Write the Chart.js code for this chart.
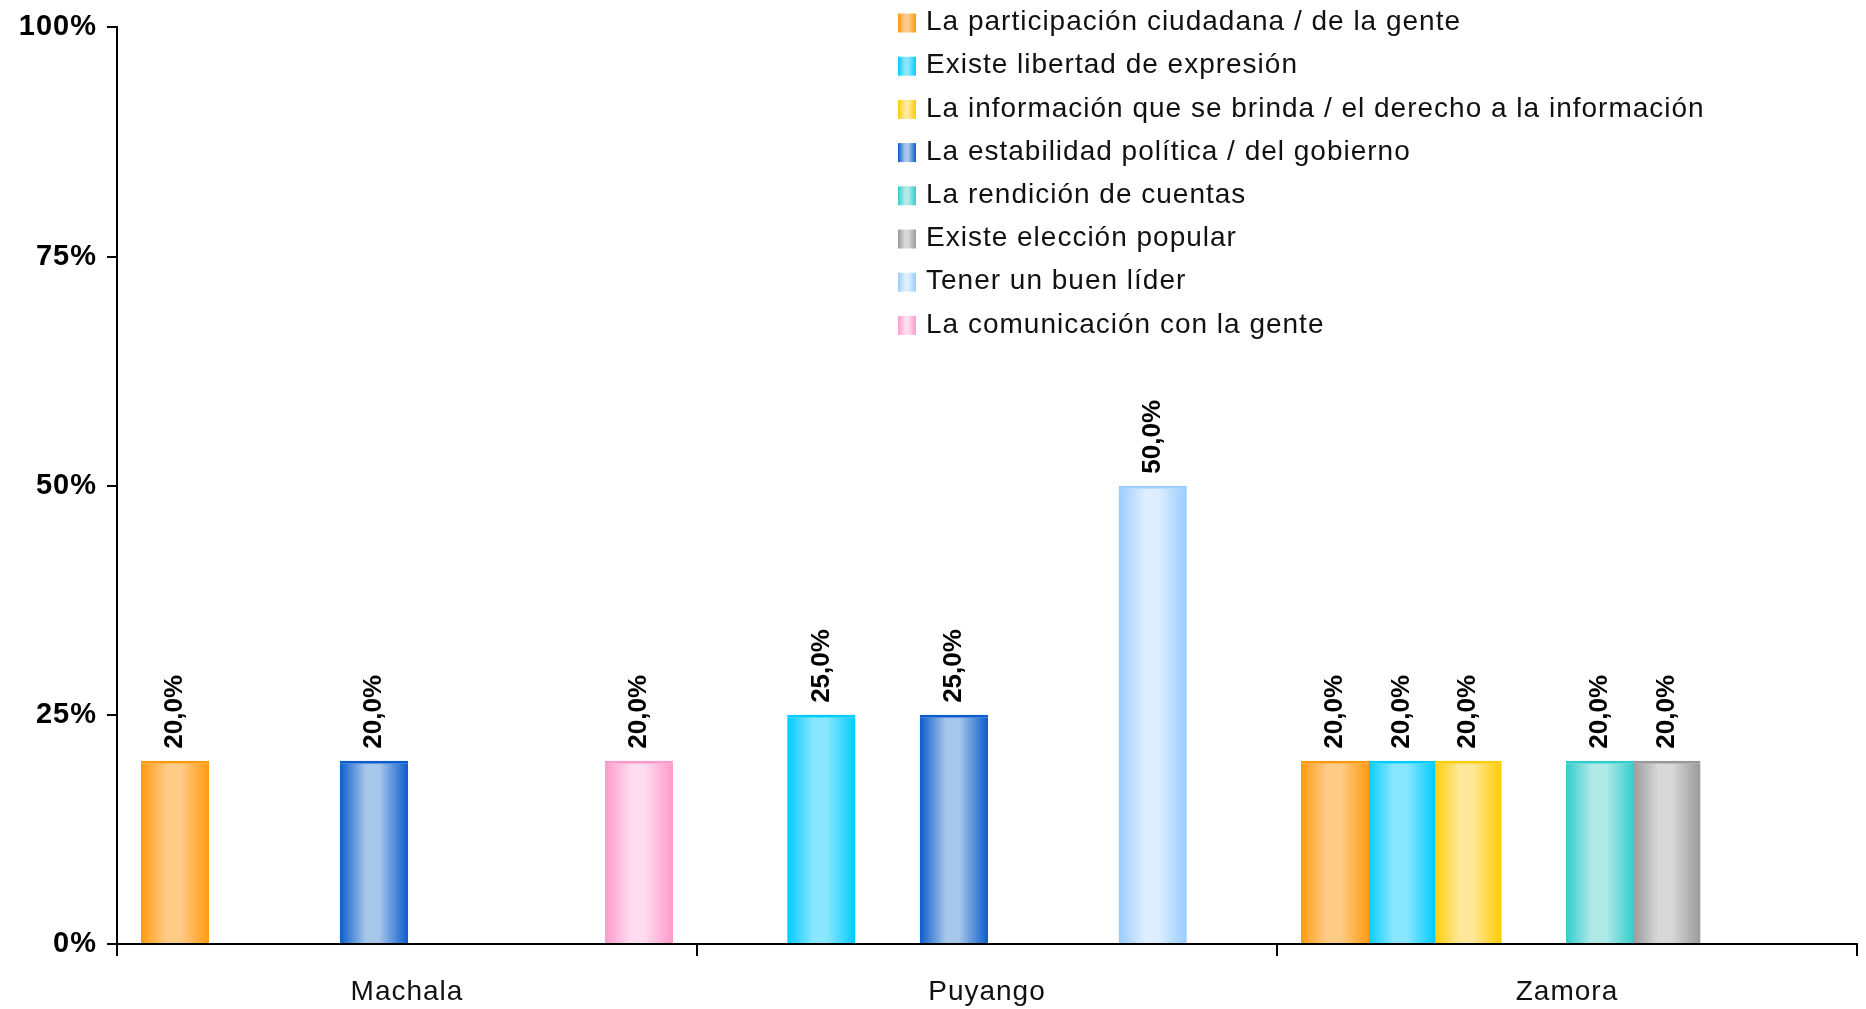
<!DOCTYPE html>
<html>
<head>
<meta charset="utf-8">
<script src="https://cdn.jsdelivr.net/npm/chart.js@4.4.1/dist/chart.umd.min.js"></script>
<style>
  html, body { margin: 0; padding: 0; background: #fff; }
  #caja { width: 1866px; height: 1009px; }
</style>
</head>
<body>
<div id="caja"><canvas id="grafico"></canvas></div>
<script>
const ciudades = ['Machala', 'Puyango', 'Zamora'];
const nombres = [
  'La participación ciudadana / de la gente',
  'Existe libertad de expresión',
  'La información que se brinda / el derecho a la información',
  'La estabilidad política / del gobierno',
  'La rendición de cuentas',
  'Existe elección popular',
  'Tener un buen líder',
  'La comunicación con la gente'
];
const participacion = [20, null, 20];
const libertad = [null, 25, 20];
const informacion = [null, null, 20];
const estabilidad = [20, 25, null];
const rendicion = [null, null, 20];
const eleccion = [null, null, 20];
const lider = [null, 50, null];
const comunicacion = [20, null, null];
const ticksY = [0, 25, 50, 75, 100];

const valores = [participacion, libertad, informacion, estabilidad, rendicion, eleccion, lider, comunicacion];

// [borde, centro]
const colores = [
  ['#ff9a10', '#ffcc88'],
  ['#00ccff', '#88e6ff'],
  ['#ffcc00', '#ffe899'],
  ['#0a5ccc', '#a6c6ea'],
  ['#33cccc', '#b0eae8'],
  ['#999999', '#d8d8d8'],
  ['#99ccff', '#ddeeff'],
  ['#ff99cc', '#ffdcee']
];

const FUENTE = '"Liberation Sans", Arial, sans-serif';

const hacerGradiente = (ctx, x0, x1, c) => {
  const g = ctx.createLinearGradient(x0, 0, x1, 0);
  g.addColorStop(0, c[0]);
  g.addColorStop(0.38, c[1]);
  g.addColorStop(0.58, c[1]);
  g.addColorStop(1, c[0]);
  return g;
}

const relleno = (c) => (context) => {
  const bar = context.element;
  if (!bar || bar.x === undefined || !bar.width) return c[0];
  return hacerGradiente(context.chart.ctx, bar.x - bar.width / 2, bar.x + bar.width / 2, c);
}

// el texto del original es algo mas ancho
const espaciado = {
  id: 'espaciado',
  beforeDraw(chart) { chart.ctx.letterSpacing = '1px'; },
  afterDraw(chart) { chart.ctx.letterSpacing = '0px'; }
}

const etiquetas = {
  id: 'etiquetas',
  afterDatasetsDraw(chart) {
    const {ctx} = chart;
    ctx.save();
    ctx.letterSpacing = '0px';
    ctx.font = 'bold 26px ' + FUENTE;
    ctx.fillStyle = '#000';
    ctx.textAlign = 'left';
    ctx.textBaseline = 'middle';
    chart.data.datasets.forEach((ds, i) => {
      chart.getDatasetMeta(i).data.forEach((bar, j) => {
        const v = ds.data[j];
        if (v === null) return;
        ctx.save();
        ctx.translate(bar.x, bar.y - 12);
        ctx.rotate(-Math.PI / 2);
        ctx.fillText(v.toFixed(1).replace('.', ',') + '%', 0, 0);
        ctx.restore();
      });
    });
    ctx.restore();
  }
}

const leyenda = {
  id: 'leyenda',
  afterDraw(chart) {
    const {ctx} = chart;
    ctx.save();
    ctx.letterSpacing = '1px';
    ctx.font = '28px ' + FUENTE;
    ctx.textAlign = 'left';
    ctx.textBaseline = 'middle';
    chart.data.datasets.forEach((ds, i) => {
      const y = 22.5 + i * 43.2;
      ctx.fillStyle = hacerGradiente(ctx, 898, 916, colores[i]);
      ctx.fillRect(898, y - 9, 18, 19);
      ctx.fillStyle = '#111';
      ctx.fillText(ds.label, 926, y);
    });
    ctx.restore();
  }
}

const datasets = nombres.map((n, i) => ({
  label: n,
  data: valores[i],
  backgroundColor: relleno(colores[i]),
  borderColor: colores[i][0],
  borderWidth: {top: 3, left: 0, right: 0, bottom: 0},
  borderSkipped: 'bottom',
  categoryPercentage: 0.914,
  barPercentage: 1.03
}));

const grafico = new Chart(document.getElementById('grafico'), {
  type: 'bar',
  data: { labels: ciudades, datasets },
  options: {
    responsive: true,
    maintainAspectRatio: false,
    animation: false,
    layout: { padding: { left: 0, top: 25, right: 9, bottom: 0 } },
    plugins: {
      legend: { display: false },
      tooltip: { enabled: false }
    },
    scales: {
      x: {
        grid: { drawOnChartArea: false, color: '#000', lineWidth: 2, tickLength: 12, tickColor: '#000', tickWidth: 2 },
        border: { display: true, color: '#000', width: 2 },
        ticks: { color: '#111', font: { size: 28, family: FUENTE }, padding: 19 },
        afterFit: (s) => { s.height = 65; }
      },
      y: {
        min: 0,
        max: 100,
        afterBuildTicks: (s) => { s.ticks = ticksY.map(v => ({ value: v })); },
        grid: { drawOnChartArea: false, color: '#000', lineWidth: 2, tickLength: 10, tickColor: '#000', tickWidth: 2 },
        border: { display: true, color: '#000', width: 2 },
        ticks: {
          color: '#000',
          font: { size: 29, weight: 'bold', family: FUENTE },
          padding: 10,
          callback: (v) => v + '%'
        },
        afterFit: (s) => { s.width = 117; }
      }
    }
  },
  plugins: [espaciado, etiquetas, leyenda]
});
grafico.update();
</script>
</body>
</html>
